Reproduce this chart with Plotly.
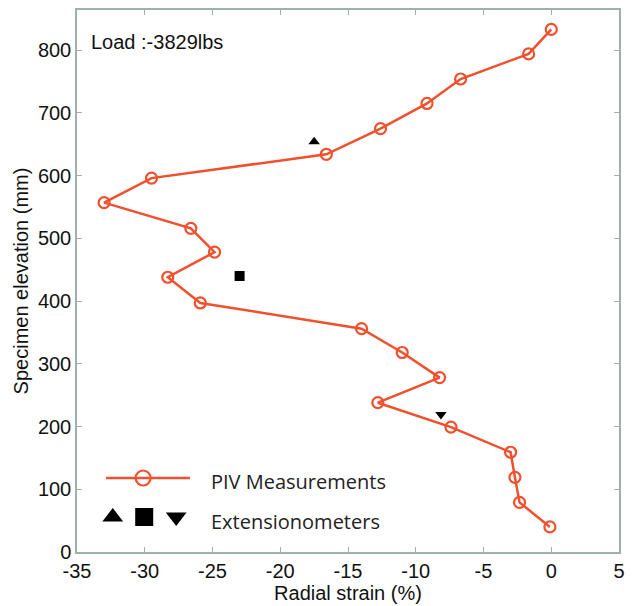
import plotly.graph_objects as go

# PIV measurements
piv_strain = [0.0, -1.67, -6.69, -9.17, -12.6, -16.6, -29.5, -33.0, -26.6, -24.85, -28.3,
              -25.9, -14.0, -11.0, -8.24, -12.8, -7.4, -3.0, -2.68, -2.34, -0.1]
piv_elev = [833, 794, 754, 715, 675, 634, 596, 557, 516, 478, 438,
            397, 356, 318, 278, 238, 199, 159, 119, 79, 40]

# Extensometers
ext_strain = [-17.5, -23.0, -8.14]
ext_elev = [654, 440, 219]
ext_symbols = ["triangle-up", "square", "triangle-down"]

x_ticks = [-35, -30, -25, -20, -15, -10, -5, 0, 5]
y_ticks = [0, 100, 200, 300, 400, 500, 600, 700, 800]

RED = "#F0502D"
FRAME = "#9DB0AB"

fig = go.Figure()
fig.add_trace(go.Scatter(
    x=piv_strain, y=piv_elev, mode="lines+markers",
    line=dict(color=RED, width=2.5),
    marker=dict(symbol="circle-open", size=11, color=RED, line=dict(width=2.2, color=RED)),
    showlegend=False))
fig.add_trace(go.Scatter(
    x=ext_strain, y=ext_elev, mode="markers",
    marker=dict(symbol=ext_symbols, size=10, color="black"),
    showlegend=False))

# manual legend on overlay axes
fig.add_trace(go.Scatter(
    x=[0.0535, 0.2085], y=[0.1365, 0.1365], mode="lines",
    line=dict(color=RED, width=2.5), xaxis="x2", yaxis="y2", showlegend=False, hoverinfo="skip"))
fig.add_trace(go.Scatter(
    x=[0.122], y=[0.1365], mode="markers",
    marker=dict(symbol="circle-open", size=15, color=RED, line=dict(width=2.2, color=RED)),
    xaxis="x2", yaxis="y2", showlegend=False, hoverinfo="skip"))
fig.add_trace(go.Scatter(
    x=[0.066, 0.124, 0.183], y=[0.0646, 0.0646, 0.0646], mode="markers",
    marker=dict(symbol=ext_symbols, size=18, color="black"),
    xaxis="x2", yaxis="y2", showlegend=False, hoverinfo="skip"))

fig.add_annotation(x=0.2435, y=0.131, xref="x2", yref="y2", text="PIV Measurements",
                   showarrow=False, xanchor="left", font=dict(family="Open Sans", size=20, color="#222"))
fig.add_annotation(x=0.2435, y=0.057, xref="x2", yref="y2", text="Extensionometers",
                   showarrow=False, xanchor="left", font=dict(family="Open Sans", size=20, color="#222"))
fig.add_annotation(x=0.022, y=0.941, xref="x2", yref="y2", text="Load :-3829lbs",
                   showarrow=False, xanchor="left", font=dict(family="Liberation Sans", size=20, color="#111"))

axis_common = dict(showgrid=False, zeroline=False, showline=True, linecolor=FRAME, linewidth=1.5,
                   mirror="ticks", ticks="inside", ticklen=5, tickcolor=FRAME, automargin=False,
                   tickfont=dict(family="Liberation Sans", size=20, color="#111"))

fig.update_layout(
    width=630, height=598,
    margin=dict(l=69, r=19, t=2, b=54),
    plot_bgcolor="white", paper_bgcolor="white",
    xaxis=dict(range=[-35, 5], tickvals=x_ticks, ticktext=[str(v) for v in x_ticks],
               title=dict(text="Radial strain (%)", font=dict(family="Liberation Sans", size=20, color="#111"), standoff=0),
               **axis_common),
    yaxis=dict(range=[0, 864], tickvals=y_ticks, ticktext=[str(v) for v in y_ticks],
               title=dict(text="Specimen elevation (mm)", font=dict(family="Liberation Sans", size=20, color="#111"), standoff=4),
               **axis_common),
    xaxis2=dict(range=[0, 1], overlaying="x", visible=False, fixedrange=True),
    yaxis2=dict(range=[0, 1], overlaying="y", visible=False, fixedrange=True),
)

fig.write_html("out.html")
